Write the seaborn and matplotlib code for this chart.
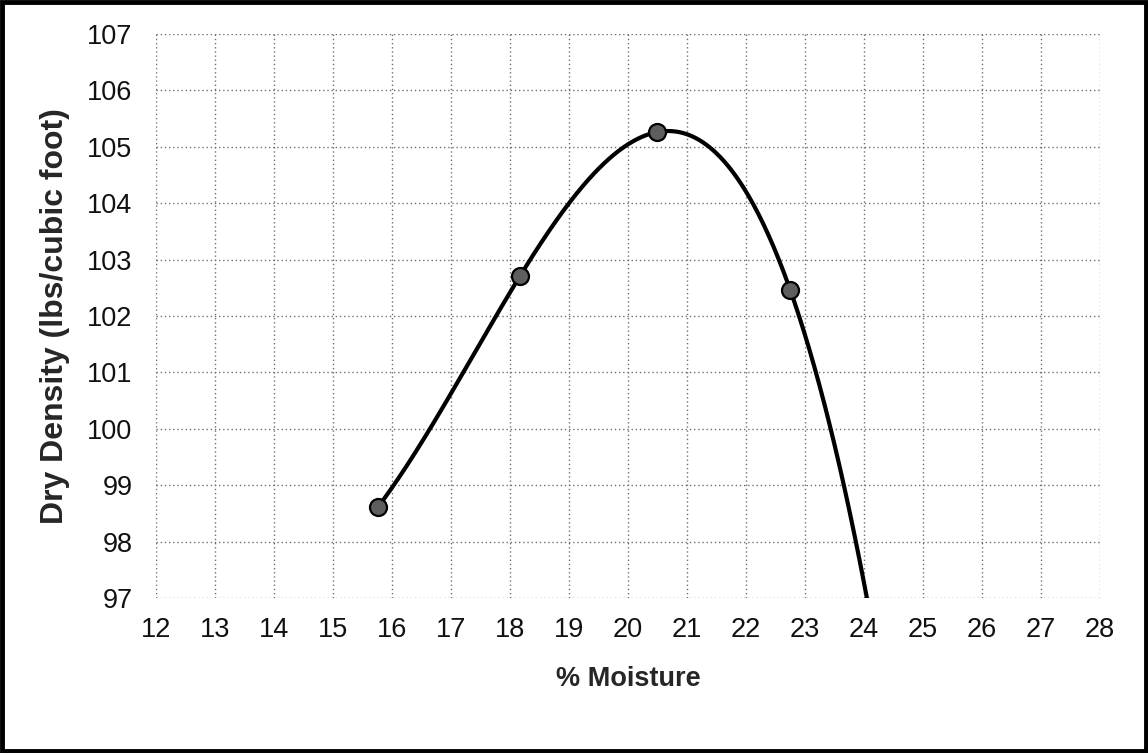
import matplotlib
matplotlib.use("Agg")
import matplotlib.pyplot as plt
from matplotlib.patches import Rectangle
import numpy as np
import pandas as pd
import seaborn as sns

# compaction test readings
moisture = [15.76, 18.17, 20.49, 22.75]
dry_density = [98.61, 102.71, 105.26, 102.46]

x_ticks = list(range(12, 29))
y_ticks = list(range(97, 108))

# style
sns.set_theme(style="whitegrid")
plt.rcParams["font.family"] = ["Liberation Sans", "DejaVu Sans"]

fig = plt.figure(figsize=(11.48, 7.53), dpi=100)
ax = fig.add_axes([156 / 1148, 1 - 598 / 753, 944 / 1148, 564 / 753])

# 3rd order polynomial trendline through the readings
coef = np.polyfit(moisture, dry_density, 3)
xs = np.linspace(moisture[0], 24.3, 300)
trend = pd.DataFrame({"x": xs, "y": np.polyval(coef, xs)})
pts = pd.DataFrame({"x": moisture, "y": dry_density})

sns.lineplot(data=trend, x="x", y="y", ax=ax, color="black", linewidth=3,
             zorder=3)
sns.scatterplot(data=pts, x="x", y="y", ax=ax, s=150, color="#5e5e5e",
                edgecolor="black", linewidth=1.6, zorder=4)

ax.set_xlim(12, 28)
ax.set_ylim(97, 107)
ax.set_xticks(x_ticks)
ax.set_yticks(y_ticks)
ax.grid(True, color="#6f6f6f", linestyle=(0, (1, 2)), linewidth=1.0)
for s in ax.spines.values():
    s.set_visible(False)
ax.tick_params(axis="both", which="major", length=5, width=0.8,
               color="#7a7a7a", labelsize=19.5, labelcolor="#111111", pad=12)
ax.tick_params(axis="x", pad=9)

ax.set_xlabel("% Moisture", fontsize=19.5, fontweight="bold", labelpad=16)
ax.set_ylabel("Dry Density (lbs/cubic foot)", fontsize=23, fontweight="bold",
              labelpad=12)

# outer frame
fig.patches.append(Rectangle((0.002, 0.002), 0.996, 0.995,
                             transform=fig.transFigure, fill=False,
                             edgecolor="black", linewidth=3.5))

fig.savefig("out.png", dpi=100)
plt.close(fig)
